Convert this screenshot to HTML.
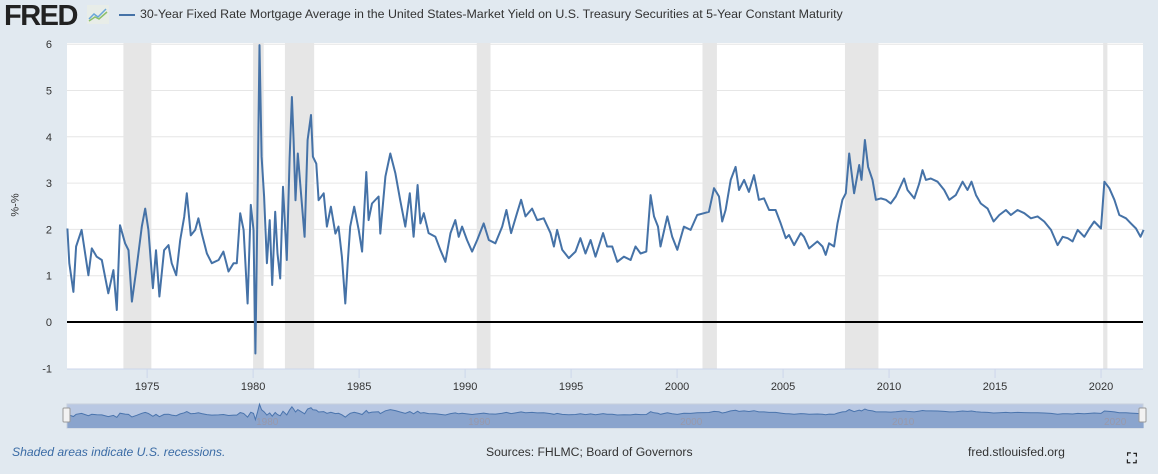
<!DOCTYPE html>
<html><head><meta charset="utf-8">
<style>
body{margin:0;width:1158px;height:474px;background:#e1e9f0;font-family:"Liberation Sans",sans-serif;overflow:hidden;position:relative}
.t{position:absolute;white-space:nowrap}
</style></head>
<body>
<div class="t" style="left:4px;top:0px;font-size:29px;font-weight:bold;color:#222;letter-spacing:-1.5px">FRED</div>
<svg style="position:absolute;left:87px;top:5px" width="22" height="19"><rect width="22" height="19" fill="#e8ede8"/><polyline points="2,14 7,9 11,12 19,4" fill="none" stroke="#6aa7d8" stroke-width="1.5"/><polyline points="2,16 8,12 12,14 20,7" fill="none" stroke="#8cc06a" stroke-width="1.5"/></svg>
<div style="position:absolute;left:119px;top:14px;width:16px;height:2px;background:#4572a7"></div>
<div class="t" style="left:140px;top:7px;font-size:12.4px;color:#333">30-Year Fixed Rate Mortgage Average in the United States-Market Yield on U.S. Treasury Securities at 5-Year Constant Maturity</div>
<div class="t" style="left:4px;top:199px;font-size:11px;color:#333;transform:rotate(-90deg)">%-%</div>
<svg id="chart" style="position:absolute;left:0;top:0" width="1158" height="474"></svg>
<div class="t" style="left:12px;top:445px;font-size:12.2px;font-style:italic;color:#3a6ba5">Shaded areas indicate U.S. recessions.</div>
<div class="t" style="left:486px;top:445px;font-size:12.2px;color:#333">Sources: FHLMC; Board of Governors</div>
<div class="t" style="left:968px;top:445px;font-size:12.2px;color:#333">fred.stlouisfed.org</div>
<div class="t" style="left:1127px;top:450px;font-size:14px;color:#222;font-weight:bold">⛶</div>
<script>
const years=[1971.24,1971.33,1971.52,1971.65,1971.91,1972.23,1972.39,1972.62,1972.86,1973.17,1973.41,1973.57,1973.72,1973.96,1974.12,1974.28,1974.51,1974.75,1974.91,1975.06,1975.27,1975.42,1975.58,1975.80,1976.01,1976.16,1976.37,1976.56,1976.75,1976.87,1977.06,1977.27,1977.42,1977.58,1977.82,1978.05,1978.37,1978.60,1978.84,1979.08,1979.23,1979.39,1979.55,1979.74,1979.89,1980.02,1980.11,1980.21,1980.30,1980.40,1980.52,1980.65,1980.78,1980.90,1981.04,1981.15,1981.28,1981.41,1981.59,1981.72,1981.83,1981.91,1982.00,1982.11,1982.26,1982.43,1982.57,1982.73,1982.82,1982.98,1983.09,1983.33,1983.48,1983.67,1983.88,1984.03,1984.19,1984.35,1984.46,1984.58,1984.77,1984.98,1985.14,1985.34,1985.45,1985.61,1985.92,1986.00,1986.24,1986.47,1986.71,1986.94,1987.18,1987.39,1987.57,1987.76,1987.89,1988.05,1988.28,1988.60,1988.83,1989.07,1989.31,1989.54,1989.70,1989.86,1990.09,1990.33,1990.57,1990.88,1991.12,1991.43,1991.75,1991.95,1992.17,1992.45,1992.64,1992.85,1993.16,1993.40,1993.71,1994.03,1994.19,1994.34,1994.58,1994.89,1995.21,1995.44,1995.68,1995.92,1996.15,1996.51,1996.70,1996.94,1997.18,1997.49,1997.81,1998.04,1998.28,1998.55,1998.75,1998.91,1999.10,1999.22,1999.54,1999.77,2000.01,2000.32,2000.64,2000.95,2001.27,2001.50,2001.74,2001.98,2002.13,2002.29,2002.53,2002.76,2002.92,2003.16,2003.39,2003.63,2003.86,2004.10,2004.34,2004.65,2004.89,2005.13,2005.28,2005.52,2005.83,2005.99,2006.23,2006.62,2006.86,2007.01,2007.17,2007.41,2007.57,2007.80,2007.96,2008.12,2008.35,2008.59,2008.70,2008.86,2009.01,2009.22,2009.38,2009.61,2009.85,2010.08,2010.32,2010.71,2010.87,2011.19,2011.42,2011.58,2011.74,2011.97,2012.29,2012.60,2012.84,2013.15,2013.47,2013.70,2013.89,2014.10,2014.33,2014.65,2014.93,2015.20,2015.51,2015.75,2016.06,2016.38,2016.69,2017.01,2017.32,2017.64,2017.95,2018.19,2018.43,2018.66,2018.90,2019.21,2019.45,2019.68,2020.00,2020.16,2020.39,2020.63,2020.86,2021.18,2021.41,2021.65,2021.86,2022.01];
const values=[2.02,1.27,0.65,1.63,1.99,1.01,1.59,1.41,1.34,0.62,1.12,0.26,2.09,1.70,1.55,0.44,1.19,2.06,2.45,1.99,0.73,1.55,0.55,1.55,1.66,1.27,1.01,1.77,2.27,2.78,1.87,1.99,2.24,1.91,1.48,1.27,1.34,1.52,1.09,1.27,1.27,2.35,1.99,0.40,2.53,1.99,-0.68,2.71,5.98,3.57,2.71,1.27,2.20,0.80,2.38,1.48,0.94,2.92,1.34,3.53,4.86,3.93,2.63,3.64,2.78,1.84,3.93,4.47,3.57,3.42,2.63,2.78,2.06,2.49,1.91,2.06,1.41,0.40,1.27,2.06,2.49,1.99,1.52,3.24,2.20,2.56,2.71,1.91,3.14,3.64,3.21,2.63,2.06,2.78,1.84,2.96,2.13,2.35,1.92,1.84,1.56,1.30,1.92,2.20,1.84,2.06,1.77,1.52,1.77,2.13,1.77,1.70,2.06,2.42,1.92,2.35,2.64,2.28,2.45,2.20,2.24,1.92,1.63,1.99,1.56,1.38,1.52,1.81,1.48,1.77,1.41,1.92,1.63,1.63,1.30,1.41,1.34,1.63,1.48,1.52,2.74,2.28,2.06,1.63,2.28,1.84,1.56,2.06,1.99,2.31,2.35,2.38,2.89,2.71,2.17,2.42,3.07,3.35,2.85,3.07,2.81,3.17,2.64,2.67,2.42,2.42,2.13,1.81,1.88,1.66,1.92,1.84,1.59,1.74,1.63,1.45,1.70,1.63,2.13,2.64,2.78,3.64,2.78,3.39,3.07,3.93,3.35,3.07,2.64,2.67,2.64,2.56,2.71,3.10,2.85,2.67,2.99,3.28,3.07,3.10,3.03,2.85,2.64,2.74,3.03,2.85,3.03,2.74,2.56,2.45,2.17,2.31,2.42,2.31,2.42,2.35,2.24,2.28,2.17,1.99,1.66,1.84,1.81,1.74,1.99,1.84,2.02,2.17,2.02,3.03,2.89,2.64,2.31,2.24,2.13,2.02,1.84,1.99];
const recStart=[1973.88,1980.0,1981.5,1990.55,2001.2,2007.92,2020.1];
const recEnd=[1975.2,1980.5,1982.88,1991.2,2001.88,2009.5,2020.3];
const yTicks=[-1,0,1,2,3,4,5,6];
const xTicks=[1975,1980,1985,1990,1995,2000,2005,2010,2015,2020];
const navTicks=[1980,1990,2000,2010,2020];

const NS='http://www.w3.org/2000/svg';
const svg=document.getElementById('chart');
const L=67,R=1143,T=43,B=369;
const X0=1971.22,X1=2021.98;
const xs=y=>L+(y-X0)/(X1-X0)*(R-L);
const ys=v=>322-v*46.3;
function mk(tag,attrs){const e=document.createElementNS(NS,tag);for(const k in attrs)e.setAttribute(k,attrs[k]);svg.appendChild(e);return e;}
let e=mk('rect',{x:L,y:T,width:R-L,height:B-T,fill:'#fff'});


recStart.forEach((s,i)=>{const r=mk('rect',{x:xs(s),y:T,width:xs(recEnd[i])-xs(s),height:B-T,fill:'#e6e6e6'});

});
yTicks.forEach(v=>{if(v!==0&&v!==-1){const g=mk('line',{x1:L,x2:R,y1:ys(v),y2:ys(v),stroke:'#e6e6e6','stroke-width':1});

}
const t=mk('text',{x:52,y:ys(v)+4,'text-anchor':'end','font-size':11,fill:'#333','font-family':'Liberation Sans'});t.textContent=v;

});
e=mk('line',{x1:L,x2:R,y1:B,y2:B,stroke:'#ccd6eb'});


xTicks.forEach(y=>{const tk=mk('line',{x1:xs(y),x2:xs(y),y1:B,y2:B+9,stroke:'#ccd6eb'});


const t=mk('text',{x:xs(y),y:390,'text-anchor':'middle','font-size':11,fill:'#333','font-family':'Liberation Sans'});t.textContent=y;

});
e=mk('line',{x1:L,x2:R,y1:ys(0),y2:ys(0),stroke:'#000','stroke-width':2});


let d=years.map((y,i)=>(i?'L':'M')+xs(y).toFixed(1)+','+ys(values[i]).toFixed(1)).join('');
e=mk('path',{d:d,fill:'none',stroke:'#4572a7','stroke-width':2,'stroke-linejoin':'round'});


// navigator
const NT=404,NB=428;
e=mk('rect',{x:L,y:NT,width:R-L,height:NB-NT,fill:'#b9c8e3',stroke:'#c6cfdc'});


const nys=v=>418-v*2.3;
let nd=years.map((y,i)=>(i?'L':'M')+xs(y).toFixed(1)+','+nys(values[i]).toFixed(1)).join('');
e=mk('path',{d:nd+'L'+xs(years[years.length-1])+','+NB+'L'+xs(years[0])+','+NB+'Z',fill:'#8aa4cd'});


e=mk('path',{d:nd,fill:'none',stroke:'#4a74ad','stroke-width':1});


navTicks.forEach(y=>{const t=mk('text',{x:xs(y)+3,y:425,'font-size':10,fill:'#99a','font-family':'Liberation Sans'});t.textContent=y;

});
[L-4,R-4].forEach(x=>{const h=mk('rect',{x:x,y:408,width:7,height:14,fill:'#f2f2f2',stroke:'#999',rx:1});

});
</script>
</body></html>
